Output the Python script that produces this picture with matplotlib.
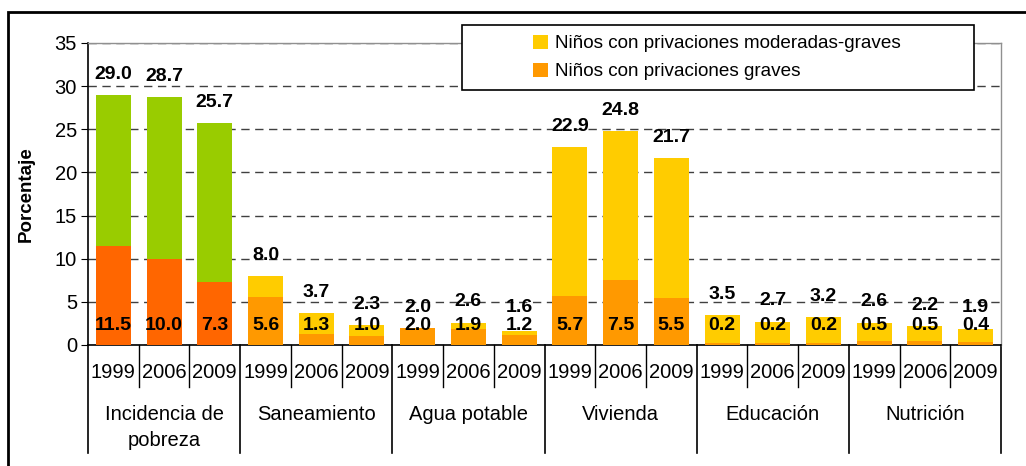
import numpy as np
import matplotlib.pyplot as plt
from matplotlib.patches import Rectangle, Patch

plt.rcParams['font.family'] = ['Liberation Sans', 'DejaVu Sans']

# Datos
grupos = ['Incidencia de\npobreza', 'Saneamiento', 'Agua potable', 'Vivienda', 'Educación', 'Nutrición']
anios = ['1999', '2006', '2009']
total = [29.0, 28.7, 25.7,
         8.0, 3.7, 2.3,
         2.0, 2.6, 1.6,
         22.9, 24.8, 21.7,
         3.5, 2.7, 3.2,
         2.6, 2.2, 1.9]
graves = [11.5, 10.0, 7.3,
          5.6, 1.3, 1.0,
          2.0, 1.9, 1.2,
          5.7, 7.5, 5.5,
          0.2, 0.2, 0.2,
          0.5, 0.5, 0.4]

c_mod, c_grav = '#FFCC00', '#FF9900'
c_pob_tot, c_pob_grav = '#99CC00', '#FF6600'

fig = plt.figure(figsize=(10.26, 4.66), dpi=100)
ax = fig.add_axes([88/1026, 1-345/466, (1001-88)/1026, (345-43)/466])

n = len(total)
x = np.arange(n)
resto = [t - g for t, g in zip(total, graves)]
col_g = [c_pob_grav if i < 3 else c_grav for i in range(n)]
col_r = [c_pob_tot if i < 3 else c_mod for i in range(n)]
ax.bar(x, graves, width=0.69, color=col_g, zorder=3)
ax.bar(x, resto, width=0.69, bottom=graves, color=col_r, zorder=3)

# etiquetas: total arriba, graves abajo
for i in range(n):
    ax.text(x[i], max(total[i] + 2.4, 4.4), f'{total[i]:.1f}', ha='center', va='center',
            fontsize=14, fontweight='bold', zorder=5)
    ax.text(x[i], 2.3, f'{graves[i]:.1f}', ha='center', va='center',
            fontsize=14, fontweight='bold', zorder=5)

ax.set_xlim(-0.5, n - 0.5)
ax.set_ylim(0, 35)
ax.set_yticks(range(0, 36, 5))
ax.tick_params(axis='y', labelsize=14.5, length=5, direction='out', pad=3)
ax.set_xticks([])
ax.yaxis.grid(True, linestyle=(0, (6, 4)), color='#404040', linewidth=1, zorder=0)
ax.set_ylabel('Porcentaje', fontsize=13.5, fontweight='bold', labelpad=14)

for s in ['top', 'right']:
    ax.spines[s].set_color('#909090')
    ax.spines[s].set_linewidth(1)
for s in ['left', 'bottom']:
    ax.spines[s].set_color('black')
    ax.spines[s].set_linewidth(1.2)

# eje x de dos niveles
tr = ax.get_xaxis_transform()
h = 302.0
for i in range(n + 1):
    if i % 3 == 0:
        ax.plot([i - 0.5, i - 0.5], [0, -108/h], transform=tr, color='black', lw=1.2, clip_on=False)
    else:
        ax.plot([i - 0.5, i - 0.5], [0, -42/h], transform=tr, color='black', lw=1, clip_on=False)
for i in range(n):
    ax.text(x[i], -28/h, anios[i % 3], transform=tr, ha='center', va='center', fontsize=14.5)
for j, g in enumerate(grupos):
    ax.text(3*j + 1, -60/h, g, transform=tr, ha='center', va='top', fontsize=14.5, linespacing=1.5)

# leyenda
handles = [Patch(facecolor=c_mod, label='Niños con privaciones moderadas-graves'),
           Patch(facecolor=c_grav, label='Niños con privaciones graves')]
leg = fig.legend(handles=handles, loc='center left', bbox_to_anchor=(533/1026, 1-57.5/466),
                 fontsize=13.6, frameon=False,
                 handlelength=0.8, handleheight=0.8, handletextpad=0.35,
                 borderpad=0, labelspacing=0.55, borderaxespad=0)
leg.set_zorder(10)
fig.patches.append(Rectangle((462/1026, 1-90/466), (974-462)/1026, 65/466, transform=fig.transFigure,
                             facecolor='white', edgecolor='black', linewidth=1.2, zorder=5))

# marco exterior
fig.patches.append(Rectangle((8/1026, -0.1), 1.2, 1.1 - 12/466, transform=fig.transFigure,
                             fill=False, edgecolor='black', linewidth=2, zorder=0))

fig.savefig('out.png', dpi=100)
